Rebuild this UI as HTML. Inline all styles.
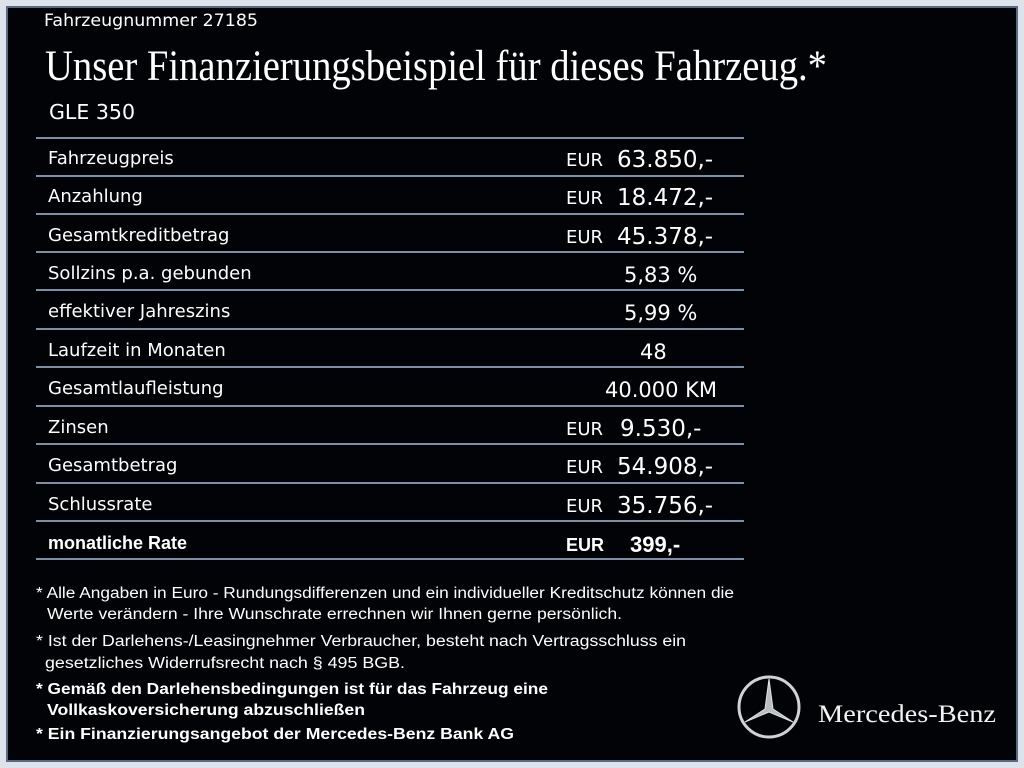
<!DOCTYPE html>
<html><head><meta charset="utf-8"><style>
html,body{margin:0;padding:0;background:#dfe5ec;}
svg{display:block}
</style></head><body>
<svg width="1024" height="768" xmlns="http://www.w3.org/2000/svg">
<rect x="0" y="0" width="1024" height="768" fill="#dde3ea"/>
<rect x="7" y="7" width="1010" height="754" fill="#020306" stroke="#5a6a80" stroke-width="2"/>
<g font-family="'DejaVu Sans', sans-serif" fill="#fff">
<text x="44" y="26" font-size="17" textLength="214" lengthAdjust="spacingAndGlyphs">Fahrzeugnummer  27185</text>
<text x="45" y="80" font-family="'Liberation Serif',serif" font-size="43" textLength="782" lengthAdjust="spacingAndGlyphs">Unser Finanzierungsbeispiel für dieses Fahrzeug.*</text>
<text x="49" y="119" font-size="20" textLength="86" lengthAdjust="spacingAndGlyphs">GLE 350</text>
</g>
<g stroke="#7d8ea5" stroke-width="2">
<line x1="36" y1="138" x2="744" y2="138"/><line x1="36" y1="176" x2="744" y2="176"/>
<line x1="36" y1="214" x2="744" y2="214"/><line x1="36" y1="252" x2="744" y2="252"/>
<line x1="36" y1="290" x2="744" y2="290"/><line x1="36" y1="329" x2="744" y2="329"/>
<line x1="36" y1="367" x2="744" y2="367"/><line x1="36" y1="406" x2="744" y2="406"/>
<line x1="36" y1="444" x2="744" y2="444"/><line x1="36" y1="483" x2="744" y2="483"/>
<line x1="36" y1="521" x2="744" y2="521"/><line x1="36" y1="559" x2="744" y2="559"/>
</g>
<g font-family="'DejaVu Sans', sans-serif" fill="#fff" font-size="18">
<text x="48" y="164">Fahrzeugpreis</text>
<text x="48" y="202">Anzahlung</text>
<text x="48" y="241">Gesamtkreditbetrag</text>
<text x="48" y="279">Sollzins p.a. gebunden</text>
<text x="48" y="317">effektiver Jahreszins</text>
<text x="48" y="356">Laufzeit in Monaten</text>
<text x="48" y="394">Gesamtlaufleistung</text>
<text x="48" y="433">Zinsen</text>
<text x="48" y="471">Gesamtbetrag</text>
<text x="48" y="510">Schlussrate</text>
<text x="48" y="549" font-family="'Liberation Sans',sans-serif" font-weight="bold" font-size="18">monatliche Rate</text>
<g font-size="18">
<text x="566" y="166">EUR</text><text x="617" y="167" font-size="23">63.850,-</text>
<text x="566" y="204">EUR</text><text x="617" y="205" font-size="23">18.472,-</text>
<text x="566" y="243">EUR</text><text x="617" y="244" font-size="23">45.378,-</text>
<text x="624" y="282" font-size="21">5,83 %</text>
<text x="624" y="320" font-size="21">5,99 %</text>
<text x="640" y="359" font-size="21">48</text>
<text x="605" y="397" font-size="21">40.000 KM</text>
<text x="566" y="435">EUR</text><text x="620" y="436" font-size="23">9.530,-</text>
<text x="566" y="473">EUR</text><text x="617" y="474" font-size="23">54.908,-</text>
<text x="566" y="512">EUR</text><text x="617" y="513" font-size="23">35.756,-</text>
<text x="566" y="551" font-family="'Liberation Sans',sans-serif" font-weight="bold">EUR</text>
<text x="630" y="552" font-family="'Liberation Sans',sans-serif" font-weight="bold" font-size="22">399,-</text>
</g>
</g>
<g font-family="'Liberation Sans',sans-serif" fill="#fff" font-size="15.5">
<text x="36" y="598" textLength="698" lengthAdjust="spacingAndGlyphs">* Alle Angaben in Euro - Rundungsdifferenzen und ein individueller Kreditschutz können die</text>
<text x="47" y="619" textLength="575" lengthAdjust="spacingAndGlyphs">Werte verändern - Ihre Wunschrate errechnen wir Ihnen gerne persönlich.</text>
<text x="36" y="646" textLength="650" lengthAdjust="spacingAndGlyphs">* Ist der Darlehens-/Leasingnehmer Verbraucher, besteht nach Vertragsschluss ein</text>
<text x="45" y="668" textLength="360" lengthAdjust="spacingAndGlyphs">gesetzliches Widerrufsrecht nach § 495 BGB.</text>
<g font-weight="bold">
<text x="36" y="694" textLength="512" lengthAdjust="spacingAndGlyphs">* Gemäß den Darlehensbedingungen ist für das Fahrzeug eine</text>
<text x="47" y="715" textLength="318" lengthAdjust="spacingAndGlyphs">Vollkaskoversicherung abzuschließen</text>
<text x="36" y="739" textLength="478" lengthAdjust="spacingAndGlyphs">* Ein Finanzierungsangebot der Mercedes-Benz Bank AG</text>
</g>
</g>
<g transform="translate(769,707)" stroke="#cfd3d8" fill="none">
<circle r="30" stroke-width="3"/>
<path d="M0,-28 L4,2 L24,15 L0,5 L-24,15 L-4,2 Z" fill="#b9bec4" stroke="#e0e3e6" stroke-width="1"/>
</g>
<text x="818" y="722" font-family="'Liberation Serif',serif" font-size="25" fill="#f2f2f2" textLength="178" lengthAdjust="spacingAndGlyphs">Mercedes-Benz</text>
</svg>
</body></html>
